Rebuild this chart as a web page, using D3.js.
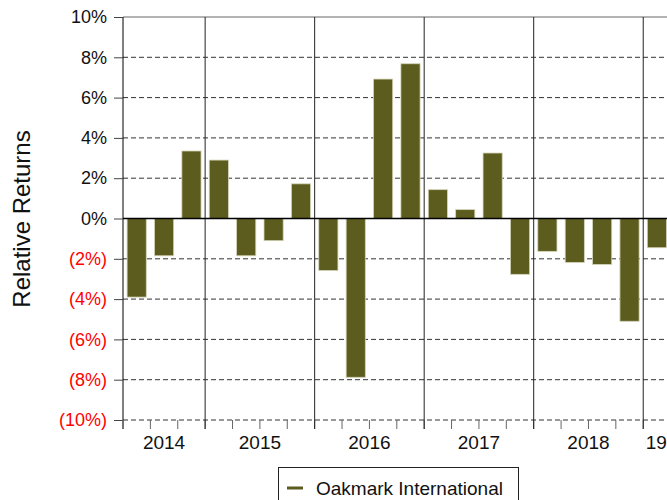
<!DOCTYPE html>
<html><head><meta charset="utf-8">
<script src="https://cdn.jsdelivr.net/npm/d3@7"></script>
<style>body{margin:0;background:#fff}svg{display:block}text{font-family:"Liberation Sans",Arial,sans-serif}</style>
</head><body><svg id="c" width="667" height="500"></svg>
<script>
const quarters = ["2014Q2","2014Q3","2014Q4","2015Q1","2015Q2","2015Q3","2015Q4","2016Q1","2016Q2","2016Q3","2016Q4","2017Q1","2017Q2","2017Q3","2017Q4","2018Q1","2018Q2","2018Q3","2018Q4","2019Q1"];
const values = [-3.9,-1.85,3.35,2.9,-1.85,-1.1,1.72,-2.58,-7.88,6.92,7.68,1.43,0.44,3.25,-2.77,-1.63,-2.18,-2.28,-5.1,-1.45];
const years = ["2014","2015","2016","2017","2018","2019"];
const yTicks = [-10,-8,-6,-4,-2,0,2,4,6,8,10];
const seriesName = "Oakmark International";
const barColor = "#5c5c1f";
const FONT = "Liberation Sans, Arial, sans-serif";

const svg = d3.select("#c");
const L = 123, T = 17, B = 420, step = 27.38;
const x = d3.scaleBand().domain(quarters).range([L, L + step * quarters.length]).padding(0);
const y = d3.scaleLinear().domain([-10, 10]).range([B, T]);
const fmt = v => v < 0 ? "(" + Math.abs(v) + "%)" : v + "%";

// gridlines
svg.append("g").selectAll("line").data(yTicks.filter(v => v !== 0 && v !== 10)).join("line")
  .attr("x1", L).attr("x2", 667).attr("y1", d => y(d)).attr("y2", d => y(d))
  .attr("stroke", "#333").attr("stroke-width", 1).attr("stroke-dasharray", "5,3");
// top border
svg.append("line").attr("x1", L).attr("x2", 667).attr("y1", y(10)).attr("y2", y(10)).attr("stroke", "#666");

// y axis
const yAxis = svg.append("g").attr("transform", `translate(${L},0)`)
  .call(d3.axisLeft(y).tickValues(yTicks).tickFormat(fmt).tickSize(9).tickPadding(7));
yAxis.attr("font-size", 18).attr("font-family", FONT);
yAxis.select(".domain").attr("stroke", "#000").attr("d", `M0,${T}V${B + 9}`);
yAxis.selectAll(".tick line").attr("stroke", "#444");
yAxis.selectAll(".tick text").attr("font-size", 18).attr("font-family", FONT)
  .attr("fill", d => d < 0 ? "#ff0000" : "#111");

// x quarter ticks
const xAxis = svg.append("g").attr("transform", `translate(0,${B})`)
  .call(d3.axisBottom(x).tickValues(quarters).tickSize(9).tickFormat(""));
xAxis.select(".domain").remove();
xAxis.selectAll(".tick").attr("transform", d => `translate(${x(d)},0)`);
xAxis.selectAll(".tick line").attr("stroke", "#666");

// year separators
const yearStart = yr => quarters.findIndex(q => q.startsWith(yr));
const yearEnd = yr => { let i = -1; quarters.forEach((q, k) => { if (q.startsWith(yr)) i = k; }); return i; };
svg.append("g").selectAll("line").data(years.slice(1)).join("line")
  .attr("x1", d => x(quarters[yearStart(d)])).attr("x2", d => x(quarters[yearStart(d)]))
  .attr("y1", T).attr("y2", B + 9).attr("stroke", "#222").attr("stroke-width", 1);

// bars
const bw = x.bandwidth() * 0.7;
svg.append("g").selectAll("rect").data(quarters).join("rect")
  .attr("x", (d) => x(d) + (x.bandwidth() - bw) / 2)
  .attr("width", bw)
  .attr("y", (d, i) => y(Math.max(0, values[i])))
  .attr("height", (d, i) => Math.abs(y(values[i]) - y(0)))
  .attr("fill", barColor).attr("stroke", "#d4d4b8").attr("stroke-width", 0.8);

// zero line
svg.append("line").attr("x1", L).attr("x2", 667).attr("y1", y(0)).attr("y2", y(0)).attr("stroke", "#000").attr("stroke-width", 1.6);

// year labels
svg.append("clipPath").attr("id", "lastyr").append("rect").attr("x", 645.5).attr("y", 425).attr("width", 100).attr("height", 40);
years.forEach(yr => {
  const s = yearStart(yr), e = yearEnd(yr);
  const t = svg.append("text").attr("font-size", 19).attr("font-family", FONT).attr("fill", "#111").attr("y", 449).text(yr);
  if (yr === "2019") {
    t.attr("x", 624.5).attr("text-anchor", "start").attr("clip-path", "url(#lastyr)");
  } else {
    t.attr("x", (x(quarters[s]) + x(quarters[e]) + x.bandwidth()) / 2).attr("text-anchor", "middle");
  }
});

// axis title
svg.append("text").attr("transform", "translate(30,219) rotate(-90)").attr("text-anchor", "middle")
  .attr("font-size", 24).attr("font-family", FONT).attr("fill", "#111").text("Relative Returns");

// legend
const lg = svg.append("g");
lg.append("rect").attr("x", 278.5).attr("y", 467.5).attr("width", 240).attr("height", 40).attr("fill", "#fff").attr("stroke", "#222");
lg.append("line").attr("x1", 287).attr("x2", 303).attr("y1", 488).attr("y2", 488).attr("stroke", barColor).attr("stroke-width", 3);
lg.append("text").attr("x", 316).attr("y", 495).attr("font-size", 19).attr("font-family", FONT).attr("fill", "#111").text(seriesName);
</script></body></html>
